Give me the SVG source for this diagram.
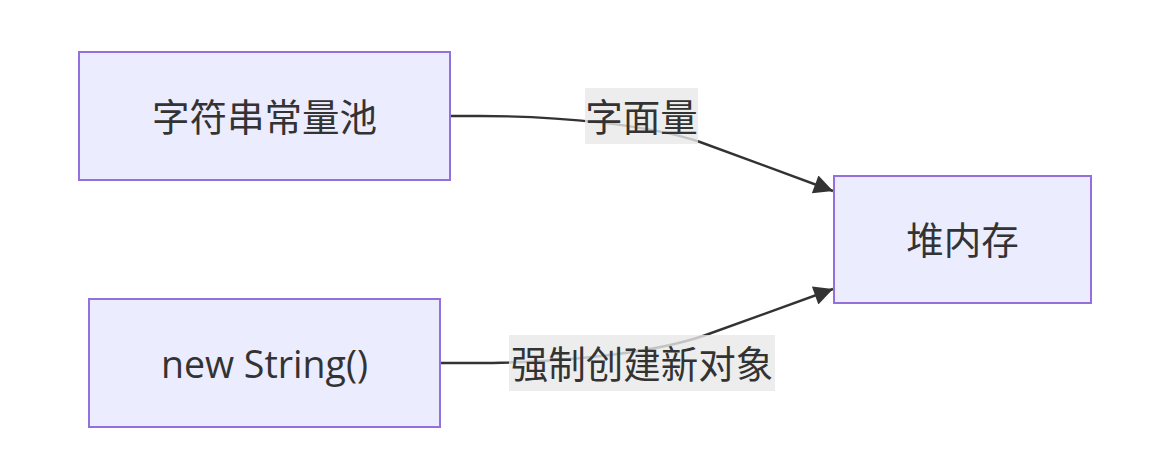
<svg xmlns="http://www.w3.org/2000/svg" width="1170" height="476" viewBox="0 0 1170 476">
<style>
.node rect{fill:#ECECFF;stroke:#9370DB;stroke-width:2}
.t{font-family:"Open Sans","Noto Sans CJK SC",sans-serif;font-size:37.5px;fill:#333;text-anchor:middle;dominant-baseline:central}
.edge{fill:none;stroke:#333;stroke-width:2.4}
.lbl rect{fill:#e8e8e8;fill-opacity:0.8}
</style>
<defs>
<marker id="arrow" viewBox="0 0 10 10" refX="10" refY="5" markerUnits="userSpaceOnUse" markerWidth="21" markerHeight="19" orient="auto">
<path d="M0,0 L10,5 L0,10 z" fill="#333"/>
</marker>
</defs>
<g id="connectors">
<path class="edge" d="M450,116 L480,116 C560,116 650,125 700,142 L833,191" marker-end="url(#arrow)"/>
<path class="edge" d="M440,363 L475,363 C555,363 650,354 703,336 L833,289" marker-end="url(#arrow)"/>
<g class="lbl"><rect x="585" y="88" width="113" height="56"/><text class="t" x="641.5" y="116">字面量</text></g>
<g class="lbl"><rect x="509" y="335" width="266" height="56"/><text class="t" x="642" y="363">强制创建新对象</text></g>
</g>
<g id="pool" class="node"><rect x="79" y="52" width="371" height="128"/><text class="t" x="264.5" y="116">字符串常量池</text></g>
<g id="newString" class="node"><rect x="89" y="299" width="351" height="128"/><text class="t" x="264.5" y="363">new String()</text></g>
<g id="heap" class="node"><rect x="834" y="176" width="257" height="127"/><text class="t" x="962.5" y="239.5">堆内存</text></g>
</svg>
